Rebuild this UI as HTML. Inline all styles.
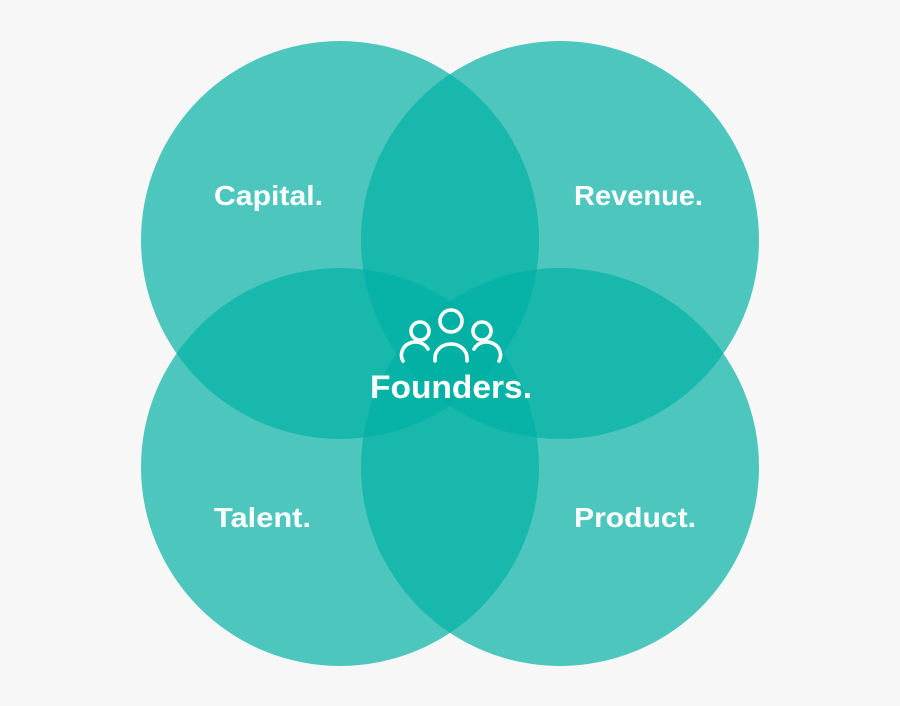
<!DOCTYPE html>
<html><head><style>
html,body{margin:0;padding:0;background:#f7f7f7;}
svg{display:block}
text{font-family:"Liberation Sans",sans-serif;font-weight:bold;fill:#fff;}
</style></head><body>
<svg width="900" height="706" viewBox="0 0 900 706">
<rect width="900" height="706" fill="#f7f7f7"/>
<g fill="rgb(0,177,164)" fill-opacity="0.69">
<circle cx="340" cy="240" r="199"/>
<circle cx="560" cy="240" r="199"/>
<circle cx="340" cy="467" r="199"/>
<circle cx="560" cy="467" r="199"/>
</g>
<text x="214" y="205" font-size="28" textLength="109" lengthAdjust="spacingAndGlyphs">Capital.</text>
<text x="574" y="205" font-size="28" textLength="129" lengthAdjust="spacingAndGlyphs">Revenue.</text>
<text x="214" y="527" font-size="28" textLength="97" lengthAdjust="spacingAndGlyphs">Talent.</text>
<text x="574" y="527" font-size="28" textLength="122" lengthAdjust="spacingAndGlyphs">Product.</text>
<text x="370" y="398" font-size="32" textLength="162" lengthAdjust="spacingAndGlyphs">Founders.</text>
<g fill="none" stroke="#fff" stroke-width="3.6" stroke-linecap="round">
<circle cx="451" cy="321" r="11"/>
<circle cx="420" cy="331" r="9"/>
<circle cx="482" cy="331" r="9"/>
<path d="M435 361 V358 A16 14 0 0 1 467 358 V361"/>
<path d="M403 361 A14 13 0 0 1 428 349"/>
<path d="M499 361 A14 13 0 0 0 474 349"/>
</g>
</svg>
</body></html>
